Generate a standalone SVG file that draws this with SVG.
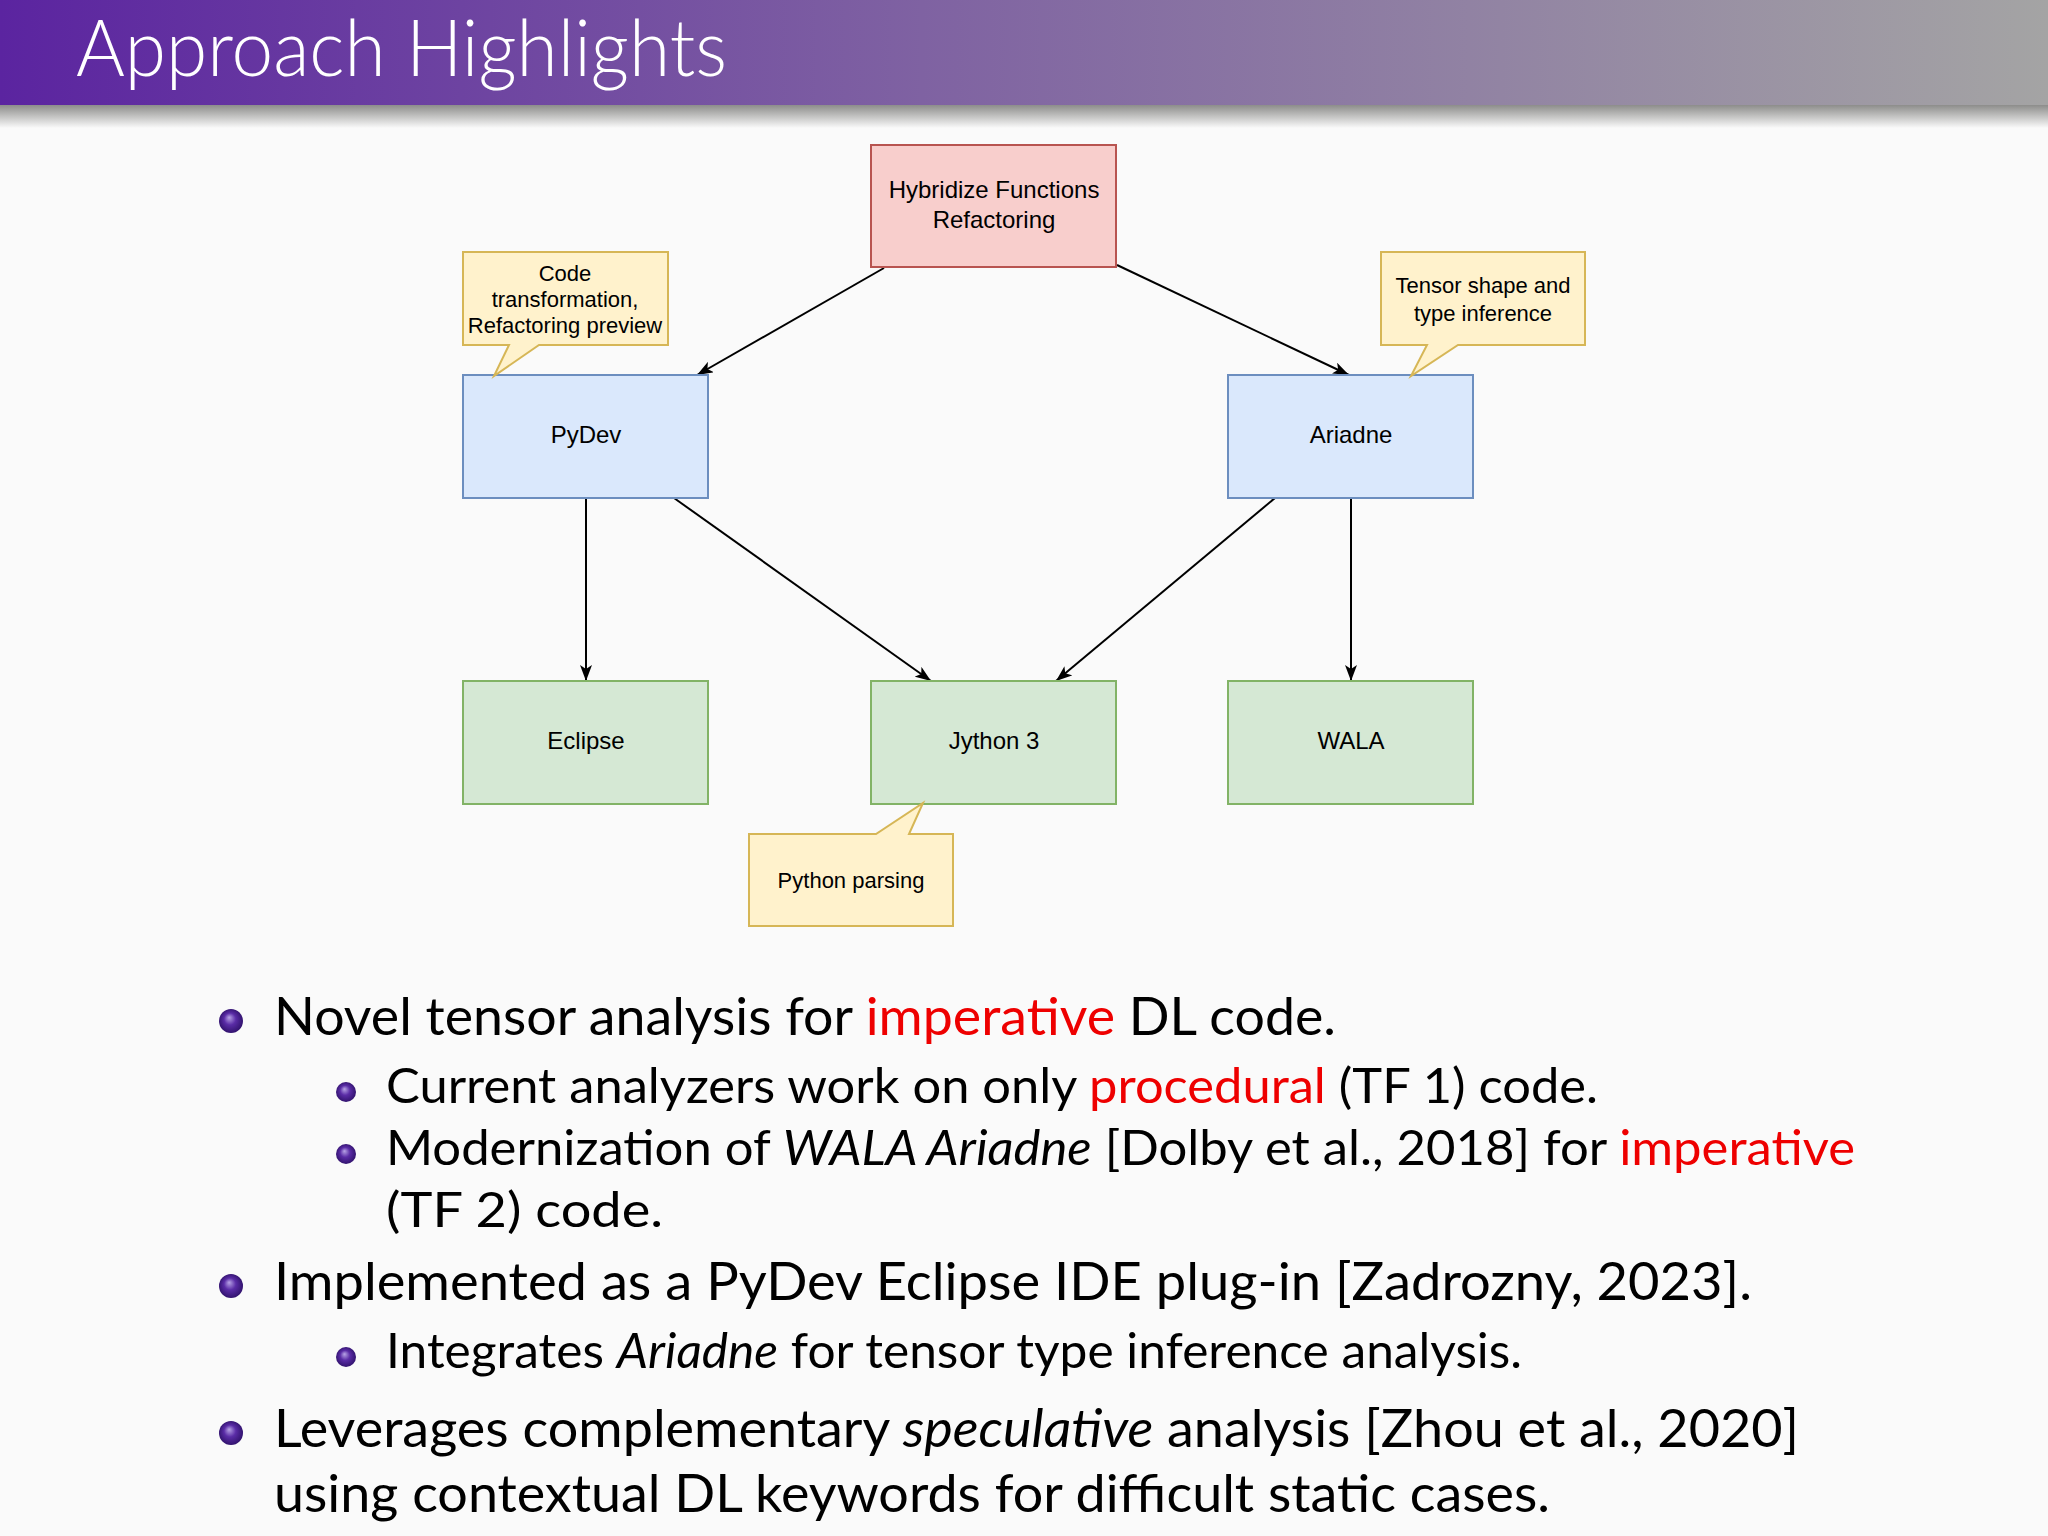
<svg xmlns="http://www.w3.org/2000/svg" width="2048" height="1536" viewBox="0 0 2048 1536">
<defs>
<linearGradient id="bar" x1="0" y1="0" x2="1" y2="0">
<stop offset="0" stop-color="#5b24a0"/>
<stop offset="0.45" stop-color="#7f62a2"/>
<stop offset="1" stop-color="#a4a4a4"/>
</linearGradient>
<linearGradient id="shadow" x1="0" y1="0" x2="0" y2="1">
<stop offset="0" stop-color="#888886"/>
<stop offset="1" stop-color="#fafafa"/>
</linearGradient>
<radialGradient id="ball" cx="0.5" cy="0.5" r="0.55" fx="0.42" fy="0.35">
<stop offset="0" stop-color="#b8a4e6"/>
<stop offset="0.45" stop-color="#5a2ca6"/>
<stop offset="1" stop-color="#2c0f66"/>
</radialGradient>
<marker id="arr" markerUnits="userSpaceOnUse" markerWidth="16" markerHeight="12" refX="16" refY="6" orient="auto">
<path d="M0,0 L16,6 L0,12 L4,6 Z" fill="#000"/>
</marker>
</defs>
<style>
.node{stroke-width:2}
.red{fill:#f8cecc;stroke:#b85450}
.blue{fill:#dae8fc;stroke:#6c8ebf}
.green{fill:#d5e8d4;stroke:#82b366}
.note{fill:#fff2cc;stroke:#d6b656;stroke-width:2}
.lbl{font-family:"Liberation Sans",Arial,sans-serif;font-size:24px;fill:#000;text-anchor:middle}
.nt{font-family:"Liberation Sans",Arial,sans-serif;font-size:22px;fill:#000;text-anchor:middle}
.conn{stroke:#000;stroke-width:2;fill:none;marker-end:url(#arr)}
.b1{font-family:Lato,"Open Sans",sans-serif;font-size:53px;fill:#000}
.b2{font-family:Lato,"Open Sans",sans-serif;font-size:48px;fill:#000}
.al{fill:#ee0000}
.it{font-style:italic}
</style>
<rect width="2048" height="1536" fill="#fafafa"/>
<rect x="0" y="104" width="2048" height="24" fill="url(#shadow)"/>
<rect x="0" y="0" width="2048" height="105" fill="url(#bar)"/>
<text x="76" y="76" font-family="Lato,'Open Sans',sans-serif" font-weight="300" font-size="78" fill="#ffffff" textLength="651" lengthAdjust="spacingAndGlyphs">Approach Highlights</text>

<g id="connectors">
<line class="conn" x1="884" y1="268" x2="697" y2="375"/>
<line class="conn" x1="1117" y1="265" x2="1349" y2="375"/>
<line class="conn" x1="586" y1="498" x2="586" y2="681"/>
<line class="conn" x1="674" y1="498" x2="931" y2="681"/>
<line class="conn" x1="1275" y1="498" x2="1056" y2="681"/>
<line class="conn" x1="1351" y1="498" x2="1351" y2="681"/>
</g>

<g id="hybridize">
<rect class="node red" x="871" y="145" width="245" height="122"/>
<text class="lbl" x="994" y="198">Hybridize Functions</text>
<text class="lbl" x="994" y="228">Refactoring</text>
</g>
<g id="pydev">
<rect class="node blue" x="463" y="375" width="245" height="123"/>
<text class="lbl" x="586" y="443">PyDev</text>
</g>
<g id="ariadne">
<rect class="node blue" x="1228" y="375" width="245" height="123"/>
<text class="lbl" x="1351" y="443">Ariadne</text>
</g>
<g id="eclipse">
<rect class="node green" x="463" y="681" width="245" height="123"/>
<text class="lbl" x="586" y="749">Eclipse</text>
</g>
<g id="jython">
<rect class="node green" x="871" y="681" width="245" height="123"/>
<text class="lbl" x="994" y="749">Jython 3</text>
</g>
<g id="wala">
<rect class="node green" x="1228" y="681" width="245" height="123"/>
<text class="lbl" x="1351" y="749">WALA</text>
</g>
<g id="note-code">
<path class="note" d="M463,252 H668 V345 H539 L494,376 L509,345 H463 Z"/>
<text class="nt" x="565" y="281">Code</text>
<text class="nt" x="565" y="307">transformation,</text>
<text class="nt" x="565" y="333">Refactoring preview</text>
</g>
<g id="note-tensor">
<path class="note" d="M1381,252 H1585 V345 H1458 L1411,376 L1427,345 H1381 Z"/>
<text class="nt" x="1483" y="293">Tensor shape and</text>
<text class="nt" x="1483" y="321">type inference</text>
</g>
<g id="note-python">
<path class="note" d="M749,834 H876 L923,803 L909,834 H953 V926 H749 Z"/>
<text class="nt" x="851" y="888">Python parsing</text>
</g>

<g id="bullets">
<circle cx="231" cy="1021" r="12" fill="url(#ball)"/>
<text class="b1" x="274" y="1035" textLength="1062" lengthAdjust="spacingAndGlyphs">Novel tensor analysis for <tspan class="al">imperative</tspan> DL code.</text>
<circle cx="346" cy="1092" r="10" fill="url(#ball)"/>
<text class="b2" x="386" y="1103" textLength="1212" lengthAdjust="spacingAndGlyphs">Current analyzers work on only <tspan class="al">procedural</tspan> (TF 1) code.</text>
<circle cx="346" cy="1154" r="10" fill="url(#ball)"/>
<text class="b2" x="386" y="1165" textLength="1469" lengthAdjust="spacingAndGlyphs">Modernization of <tspan class="it">WALA Ariadne</tspan> [Dolby et al., 2018] for <tspan class="al">imperative</tspan></text>
<text class="b2" x="386" y="1227" textLength="277" lengthAdjust="spacingAndGlyphs">(TF 2) code.</text>
<circle cx="231" cy="1286" r="12" fill="url(#ball)"/>
<text class="b1" x="274" y="1300" textLength="1478" lengthAdjust="spacingAndGlyphs">Implemented as a PyDev Eclipse IDE plug-in [Zadrozny, 2023].</text>
<circle cx="346" cy="1357" r="10" fill="url(#ball)"/>
<text class="b2" x="386" y="1368" textLength="1136" lengthAdjust="spacingAndGlyphs">Integrates <tspan class="it">Ariadne</tspan> for tensor type inference analysis.</text>
<circle cx="231" cy="1433" r="12" fill="url(#ball)"/>
<text class="b1" x="274" y="1447" textLength="1525" lengthAdjust="spacingAndGlyphs">Leverages complementary <tspan class="it">speculative</tspan> analysis [Zhou et al., 2020]</text>
<text class="b1" x="274" y="1512" textLength="1276" lengthAdjust="spacingAndGlyphs">using contextual DL keywords for difficult static cases.</text>
</g>
</svg>
